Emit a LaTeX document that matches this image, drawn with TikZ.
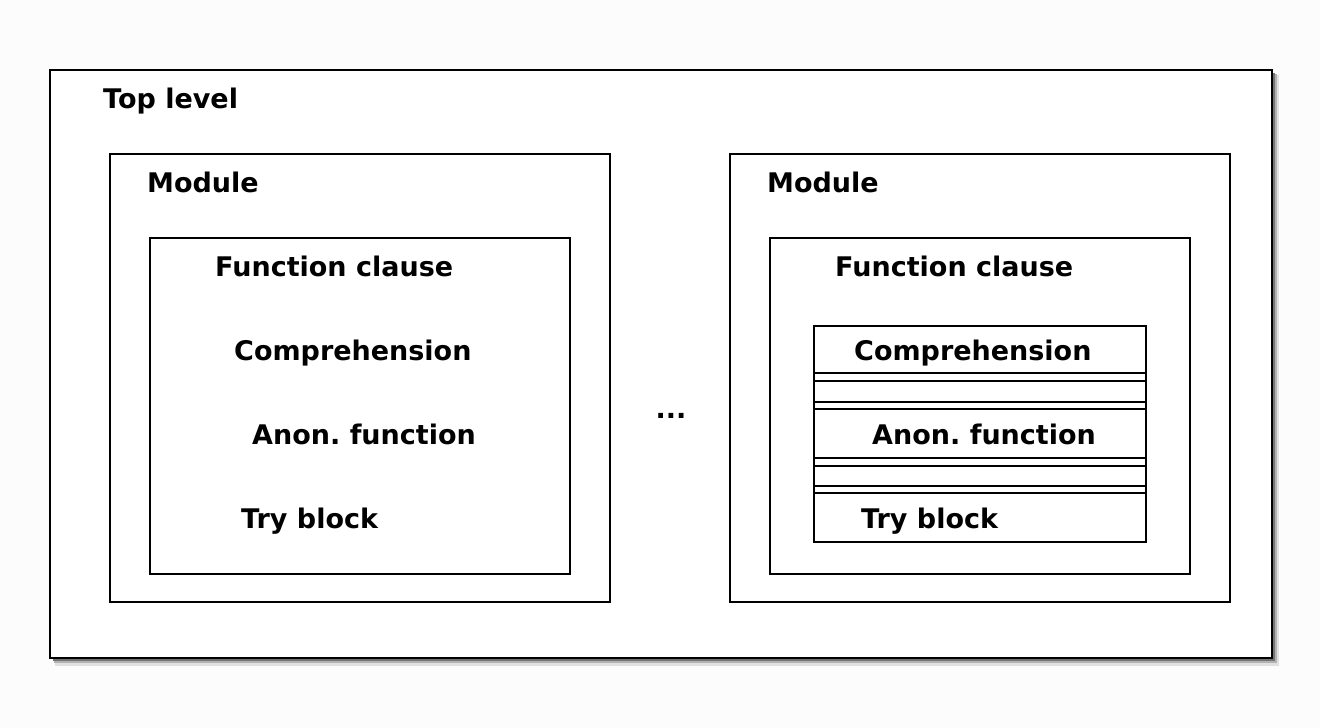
\documentclass[tikz,border=0pt]{standalone}
\usepackage{fontspec}
\setmainfont{DejaVu Sans}
\frenchspacing
\begin{document}
\begin{tikzpicture}[x=1pt,y=-1pt,
  box/.style={draw=black, line width=1.6pt, fill=white, anchor=north west, inner sep=0pt, outer sep=0pt},
  lbl/.style={anchor=base west, inner sep=0pt, font=\fontsize{27}{32}\selectfont\bfseries}]
\fill[white!99!black] (0,0) rectangle (1320,728);
% shadow
\fill[black!12] (55,75) rectangle (1279,666);
\fill[black!30] (54,74) rectangle (1277,663);
\fill[black!55] (53,73) rectangle (1275,661);
% outer box
\node[box, line width=2pt, minimum width=1222pt, minimum height=588pt] (top) at (50,70) {};
\node[lbl] (toplbl) at (103,108) {Top level};
% left module
\node[box, minimum width=500pt, minimum height=448pt] (modL) at (110,154) {};
\node[lbl] (modLlbl) at (147,192) {Module};
\node[box, minimum width=420pt, minimum height=336pt] (fcL) at (150,238) {};
\node[lbl] (fcLlbl) at (215,276) {Function clause};
\node[lbl] (compL) at (234,360) {Comprehension};
\node[lbl] (anonL) at (252,444) {Anon. function};
\node[lbl] (tryL) at (241,528) {Try block};
% ellipsis
\node[anchor=base, inner sep=0pt, font=\fontsize{27}{32}\selectfont\bfseries] (dots) at (671,418) {...};
% right module
\node[box, minimum width=500pt, minimum height=448pt] (modR) at (730,154) {};
\node[lbl] (modRlbl) at (767,192) {Module};
\node[box, minimum width=420pt, minimum height=336pt] (fcR) at (770,238) {};
\node[lbl] (fcRlbl) at (835,276) {Function clause};
% stack
\node[box, line width=1.4pt, minimum width=332pt, minimum height=216pt] (stack) at (814,326) {};
\foreach \yy in {373,381,402,409,458,466,486,493}
  \draw[line width=1.4pt] (stack.west |- 0,\yy) -- (stack.east |- 0,\yy);
\node[lbl] (compR) at (854,360) {Comprehension};
\node[lbl] (anonR) at (872,444) {Anon. function};
\node[lbl] (tryR) at (861,528) {Try block};
\end{tikzpicture}
\end{document}
